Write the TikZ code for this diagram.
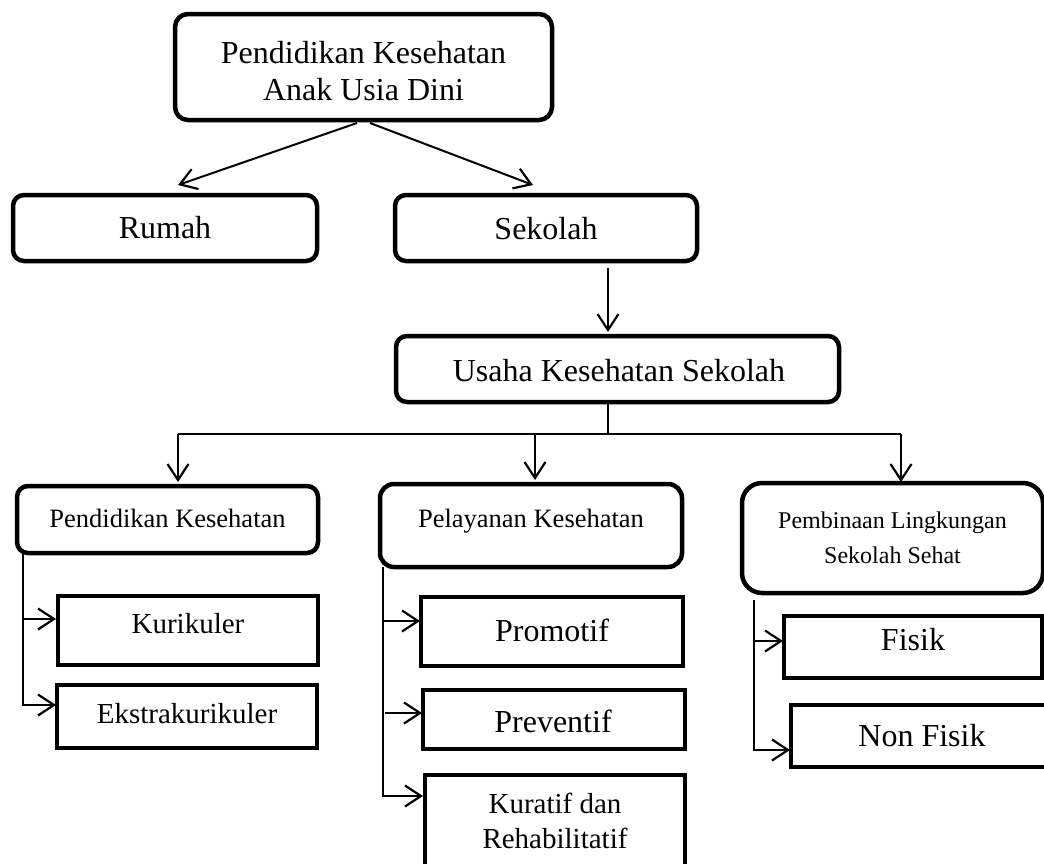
\documentclass[tikz,border=0pt]{standalone}
\usepackage{fontspec}
\setmainfont{Liberation Serif}
\usetikzlibrary{arrows.meta,calc}
\begin{document}
\begin{tikzpicture}[x=1pt,y=-1pt,
  rbox/.style={draw, rounded corners=11pt, line width=4.5pt, inner sep=0pt, outer sep=0pt},
  sbox/.style={draw, line width=4pt, inner sep=0pt, outer sep=0pt},
  txt/.style={inner sep=0pt, outer sep=0pt, align=center},
  fbig/.style={font=\fontsize{32}{37}\selectfont},
  fmid/.style={font=\fontsize{29}{35}\selectfont},
  fsm/.style={font=\fontsize{26.5}{31}\selectfont},
  fxs/.style={font=\fontsize{24}{35}\selectfont},
  conn/.style={line width=2pt},
  arr/.style={conn, -{Straight Barb[length=16pt,width=21pt,line width=2.2pt]}}
]
\useasboundingbox (0,0) rectangle (1044,863);
\clip (0,0) rectangle (1044,863);

% boxes
\node[rbox, rounded corners=13pt, minimum width=377pt, minimum height=106pt] (top) at (363.5,67) {};
\node[rbox, minimum width=304pt, minimum height=66pt] (rumah) at (165,228) {};
\node[rbox, minimum width=302pt, minimum height=66pt] (sekolah) at (546,228) {};
\node[rbox, minimum width=443pt, minimum height=66pt] (usaha) at (617.5,369) {};
\node[rbox, minimum width=301pt, minimum height=67pt] (pk) at (167.5,519.5) {};
\node[rbox, rounded corners=14pt, minimum width=302pt, minimum height=83pt] (pl) at (531,525.5) {};
\node[rbox, rounded corners=20pt, minimum width=301pt, minimum height=110pt] (pb) at (892.5,538) {};
\node[sbox, minimum width=260pt, minimum height=69pt] (kur) at (188,630.5) {};
\node[sbox, minimum width=260pt, minimum height=63pt] (eks) at (187,716.5) {};
\node[sbox, minimum width=262pt, minimum height=69pt] (pro) at (552,631.5) {};
\node[sbox, minimum width=262pt, minimum height=59pt] (pre) at (554,719.5) {};
\node[sbox, minimum width=260pt, minimum height=95pt] (kura) at (555,822.5) {};
\node[sbox, minimum width=258pt, minimum height=62pt] (fis) at (913,647) {};
\node[sbox, minimum width=264pt, minimum height=62pt] (non) at (923,736) {};

% texts
\node[txt, fbig] (topt) at (363.5,71) {Pendidikan Kesehatan\\Anak Usia Dini};
\node[txt, fbig] (rumaht) at (165,228) {Rumah};
\node[txt, fbig] (sekolaht) at (546,229) {Sekolah};
\node[txt, fbig] (usahat) at (619,371) {Usaha Kesehatan Sekolah};
\node[txt, fsm] (pkt) at (167.5,518) {Pendidikan Kesehatan};
\node[txt, fsm] (plt) at (531,521) {Pelayanan Kesehatan};
\node[txt, fxs] (pbt) at (892.5,538) {Pembinaan Lingkungan\\Sekolah Sehat};
\node[txt, fmid] (kurt) at (188,624) {Kurikuler};
\node[txt, fmid] (ekst) at (187,714) {Ekstrakurikuler};
\node[txt, fbig] (prot) at (552,630.5) {Promotif};
\node[txt, fbig] (pret) at (553,721) {Preventif};
\node[txt, fmid] (kurat) at (555,821) {Kuratif dan\\Rehabilitatif};
\node[txt, fbig] (fist) at (913,640) {Fisik};
\node[txt, fbig] (nont) at (922,736) {Non Fisik};

% top level connectors
\draw[arr] ($(top.south)+(-6.5,3)$) -- ($(rumah.north)+(13,-10)$);
\draw[arr] ($(top.south)+(6.5,3)$) -- ($(sekolah.north)+(-13,-10)$);
\draw[arr] ($(sekolah.south)+(62,7)$) -- ($(usaha.north)+(-9.5,-4)$);

% bus
\coordinate (bus) at (608,434);
\coordinate (hl) at (178,434);
\coordinate (hm) at (535,434);
\coordinate (hr) at (901,434);
\draw[conn] ($(usaha.south)+(-9.5,0)$) -- (bus);
\draw[conn] (hl) -- (hr);
\draw[arr] (hl) -- ($(pk.north)+(10.5,-4)$);
\draw[arr] (hm) -- ($(pl.north)+(4,-4)$);
\draw[arr] (hr) -- ($(pb.north)+(8.5,-1)$);

% Pendidikan Kesehatan branch
\draw[arr] ($(pk.south west)+(6,0)$) |- ($(eks.north west)+(-1,20)$);
\draw[arr] ($(kur.north west)+(-35,23)$) -- ($(kur.north west)+(-2,23)$);

% Pelayanan branch
\draw[arr] ($(pl.south west)+(3,0)$) |- ($(kura.north west)+(-2,21)$);
\draw[arr] ($(pro.north west)+(-38,24)$) -- ($(pro.north west)+(-1,24)$);
\draw[arr] ($(pre.north west)+(-38,23)$) -- ($(pre.north west)+(-1,23)$);

% Pembinaan branch
\draw[arr] ($(pb.south west)+(12,7)$) |- ($(non.north west)+(-1,45)$);
\draw[arr] ($(fis.north west)+(-30,25)$) -- ($(fis.north west)+(-1,25)$);
\end{tikzpicture}
\end{document}
